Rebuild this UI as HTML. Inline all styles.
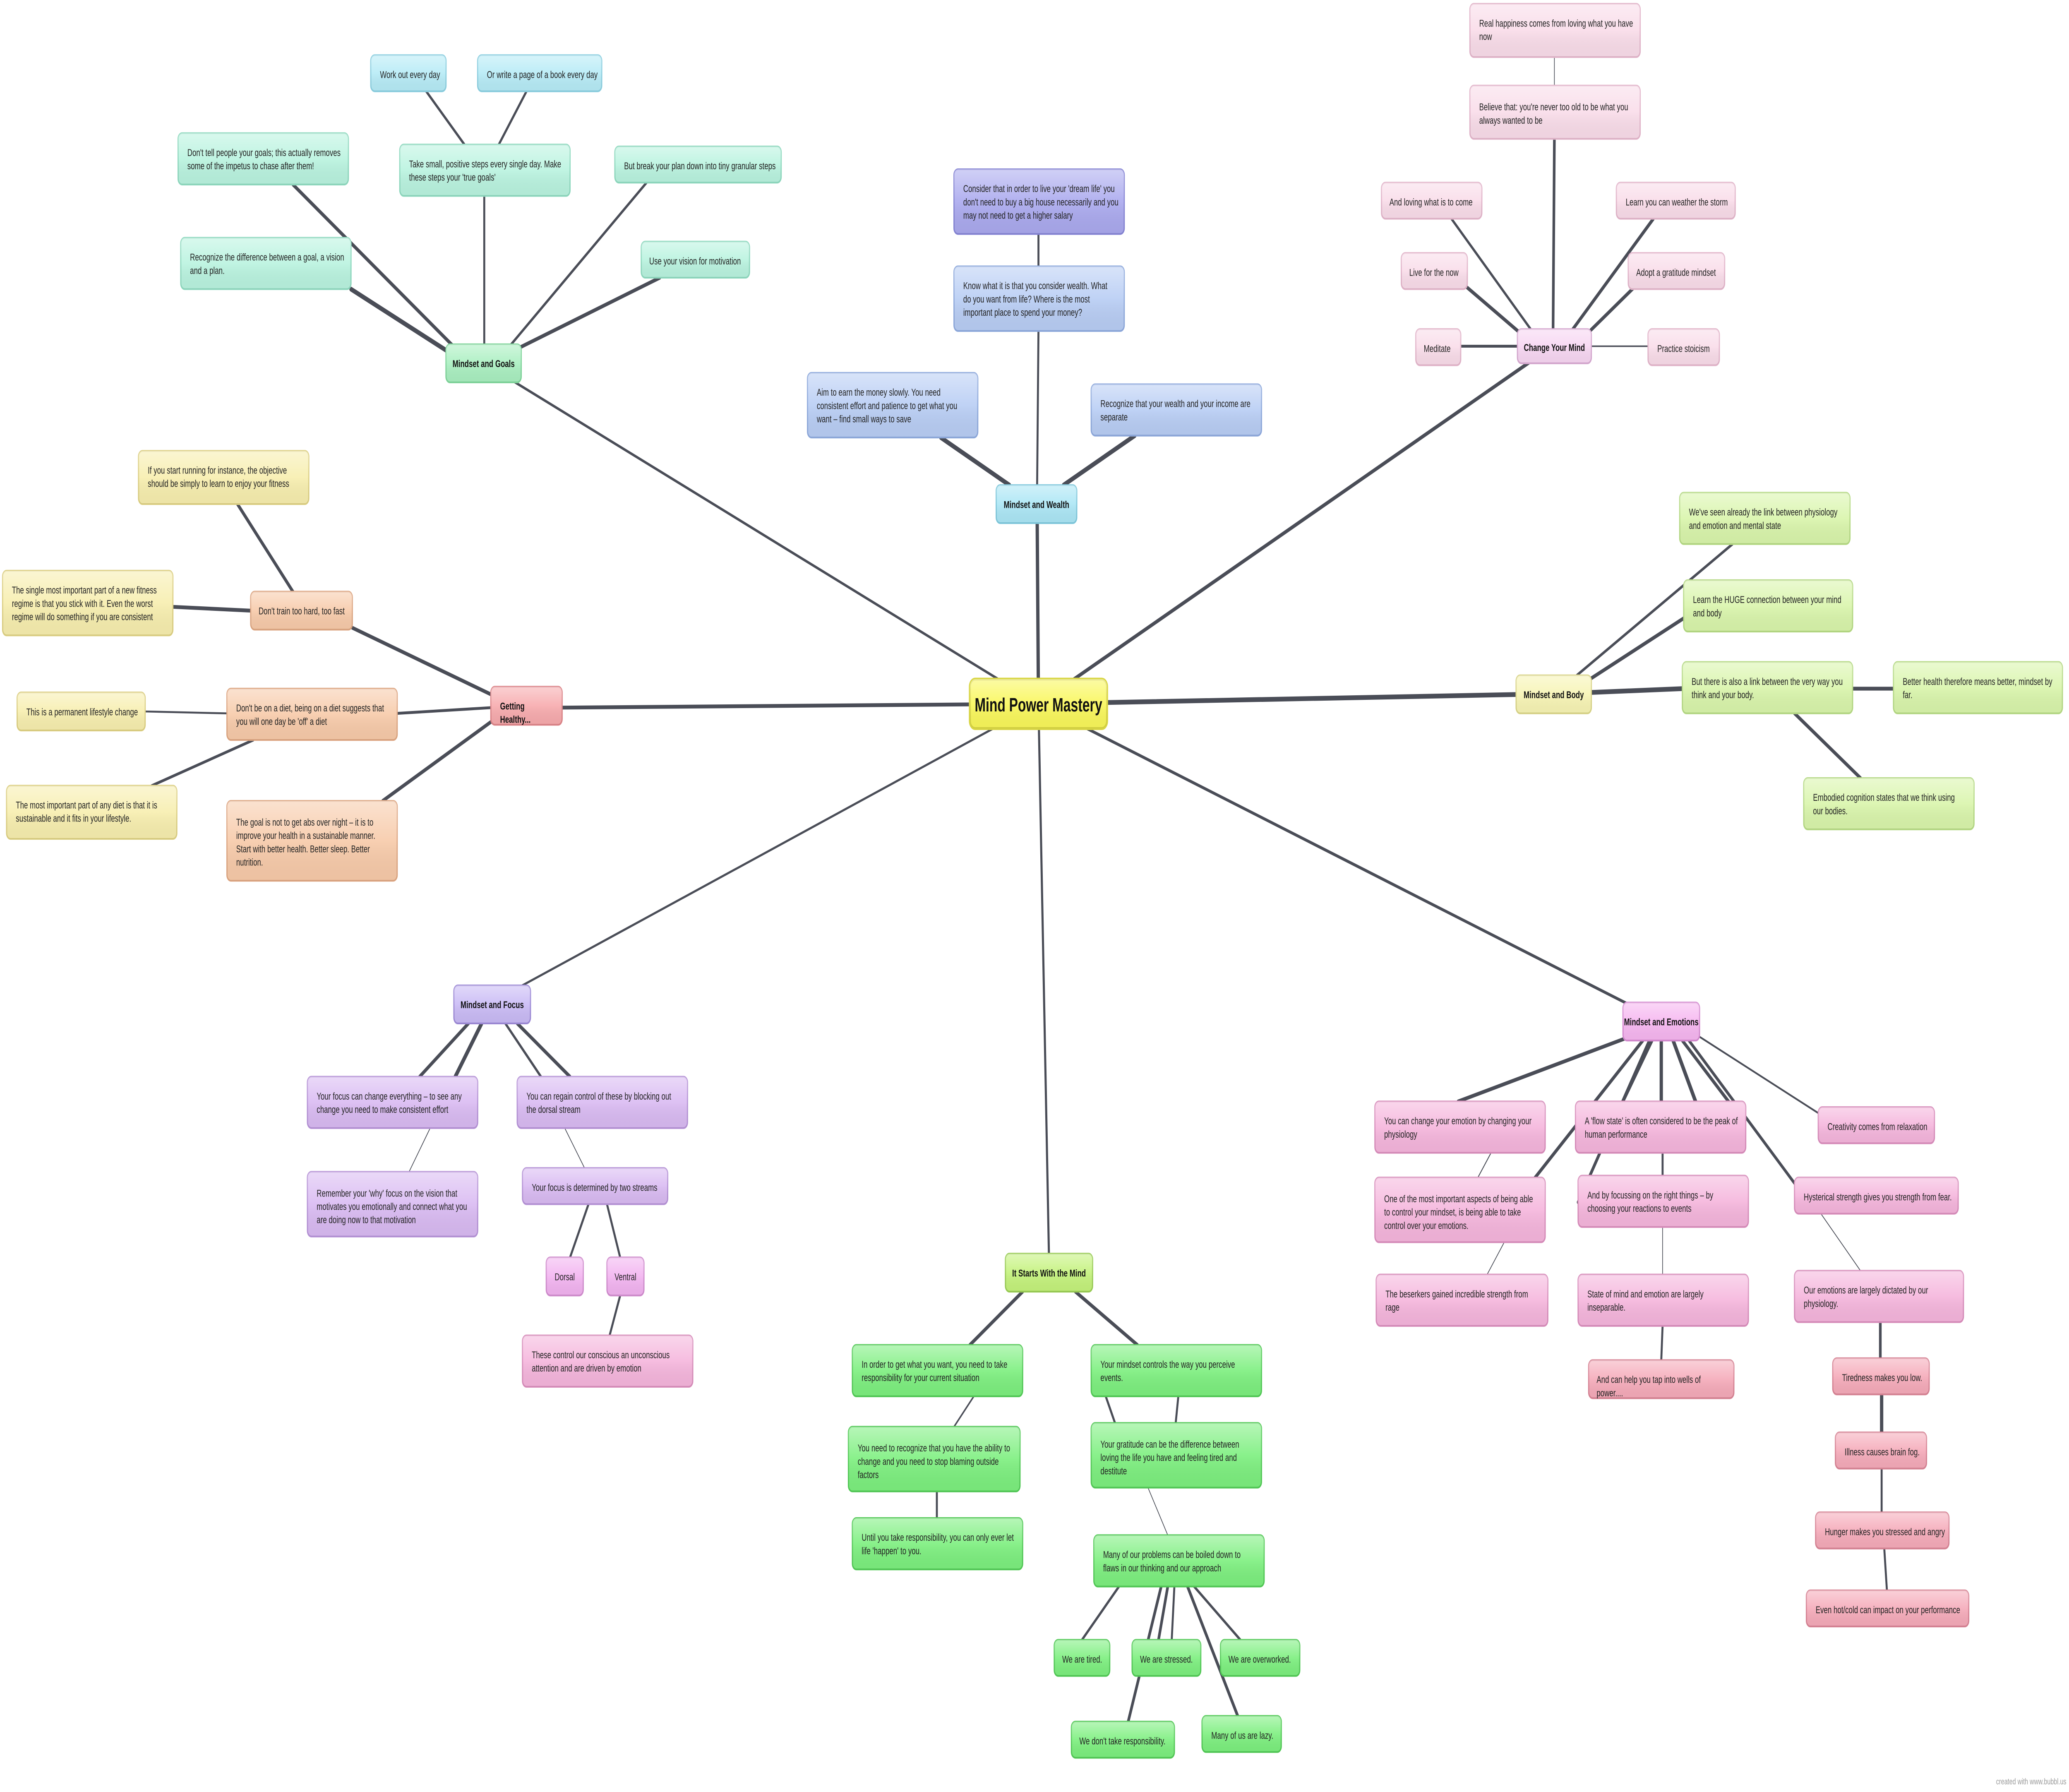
<!DOCTYPE html>
<html><head><meta charset="utf-8"><style>
html,body{margin:0;padding:0;background:#fff;width:100%;height:100%;overflow:hidden}
svg{display:block;width:100vw;height:100vh}
text{font-family:"Liberation Sans",sans-serif;fill:#222;font-size:5.3px}
.b{font-weight:bold;fill:#111}
.e{stroke:#4a4d57;stroke-linecap:round;fill:none}
.n{stroke-width:0.9}
.teal{fill:#b9f3df;stroke:#8fd9bf}
.cyan{fill:#b6ebf6;stroke:#8ccfe0}
.gh{fill:#a9efc0;stroke:#7fd49a}
.pur{fill:#aaa9ee;stroke:#8584d4}
.blu{fill:#b8cdf4;stroke:#8ea9dc}
.wh{fill:#abe6f5;stroke:#7fc8dc}
.lp{fill:#f9dce9;stroke:#e2b5ca}
.cm{fill:#f7d6f2;stroke:#d6a9d0}
.yel{fill:#f7eeae;stroke:#dccf82}
.ora{fill:#f7caa9;stroke:#dda682}
.red{fill:#f7aaad;stroke:#dc8488}
.lg{fill:#d9f5ab;stroke:#b5d984}
.by{fill:#f7f4b4;stroke:#d9d488}
.pk{fill:#f5b5dc;stroke:#d88dbb}
.me{fill:#f6b6f0;stroke:#d58ad0}
.rd{fill:#f5aab9;stroke:#d78394}
.sg{fill:#c4f27b;stroke:#99cc55}
.gr{fill:#7cef7e;stroke:#52c956}
.fp{fill:#d9baf2;stroke:#b592d6}
.mf{fill:#c9baf5;stroke:#9d8ad6}
.dv{fill:#f2b3f0;stroke:#d08ccd}
.cen{fill:#f9f75a;stroke:#d9d644;stroke-width:1.5}
</style></head><body>
<svg viewBox="0 0 1568 942" preserveAspectRatio="none" xmlns="http://www.w3.org/2000/svg">
<defs><linearGradient id="sh" x1="0" y1="0" x2="0" y2="1"><stop offset="0" stop-color="#fff" stop-opacity="0.45"/><stop offset="0.5" stop-color="#fff" stop-opacity="0.1"/><stop offset="1" stop-color="#000" stop-opacity="0.04"/></linearGradient></defs>
<rect width="1568" height="942" fill="#fff"/>
<g class="e">
<line x1="787" y1="370" x2="367" y2="191" stroke-width="1.4"/>
<line x1="787" y1="370" x2="786" y2="270" stroke-width="2.5"/>
<line x1="787" y1="370" x2="1160" y2="190" stroke-width="2"/>
<line x1="787" y1="370" x2="420" y2="372" stroke-width="2"/>
<line x1="787" y1="370" x2="1155" y2="365" stroke-width="2.5"/>
<line x1="787" y1="370" x2="1240" y2="530" stroke-width="1.6"/>
<line x1="787" y1="370" x2="380" y2="524" stroke-width="1.2"/>
<line x1="787" y1="370" x2="795" y2="662" stroke-width="1.6"/>
<line x1="367" y1="103" x2="367" y2="183" stroke-width="1.5"/>
<line x1="222" y1="97" x2="345" y2="183" stroke-width="2"/>
<line x1="266" y1="152" x2="340" y2="185" stroke-width="2.5"/>
<line x1="490" y1="96" x2="385" y2="183" stroke-width="1.5"/>
<line x1="500" y1="146" x2="393" y2="183" stroke-width="2"/>
<line x1="323" y1="48" x2="352" y2="76" stroke-width="1.5"/>
<line x1="399" y1="48" x2="378" y2="76" stroke-width="1.5"/>
<line x1="787" y1="123" x2="787" y2="140" stroke-width="1.5"/>
<line x1="787" y1="174" x2="786" y2="255" stroke-width="1.5"/>
<line x1="713" y1="230" x2="765" y2="255" stroke-width="2.5"/>
<line x1="860" y1="229" x2="806" y2="255" stroke-width="2.5"/>
<line x1="1178" y1="30" x2="1178" y2="45" stroke-width="0.5"/>
<line x1="1178" y1="73" x2="1177" y2="173" stroke-width="2"/>
<line x1="1100" y1="115" x2="1160" y2="173" stroke-width="1.5"/>
<line x1="1253" y1="115" x2="1192" y2="173" stroke-width="2"/>
<line x1="1110" y1="150" x2="1152" y2="175" stroke-width="2"/>
<line x1="1240" y1="150" x2="1202" y2="176" stroke-width="2"/>
<line x1="1107" y1="182" x2="1150" y2="182" stroke-width="1.5"/>
<line x1="1206" y1="182" x2="1249" y2="182" stroke-width="0.8"/>
<line x1="267" y1="330" x2="375" y2="366" stroke-width="2"/>
<line x1="301" y1="375" x2="372" y2="372" stroke-width="1.5"/>
<line x1="290" y1="421" x2="375" y2="378" stroke-width="2"/>
<line x1="180" y1="265" x2="222" y2="311" stroke-width="2"/>
<line x1="131" y1="319" x2="190" y2="321" stroke-width="2"/>
<line x1="110" y1="374" x2="172" y2="375" stroke-width="1"/>
<line x1="115" y1="413" x2="192" y2="389" stroke-width="1.5"/>
<line x1="1313" y1="286" x2="1195" y2="355" stroke-width="1.5"/>
<line x1="1276" y1="325" x2="1205" y2="357" stroke-width="2"/>
<line x1="1275" y1="362" x2="1206" y2="364" stroke-width="2.5"/>
<line x1="1404" y1="362" x2="1435" y2="362" stroke-width="2"/>
<line x1="1360" y1="375" x2="1410" y2="409" stroke-width="2"/>
<line x1="1105" y1="579" x2="1235" y2="545" stroke-width="2"/>
<line x1="1160" y1="622" x2="1245" y2="547" stroke-width="2"/>
<line x1="1196" y1="632" x2="1250" y2="547" stroke-width="2"/>
<line x1="1230" y1="579" x2="1252" y2="547" stroke-width="2"/>
<line x1="1259" y1="579" x2="1259" y2="547" stroke-width="2.5"/>
<line x1="1285" y1="579" x2="1268" y2="547" stroke-width="2.5"/>
<line x1="1322" y1="590" x2="1275" y2="547" stroke-width="2"/>
<line x1="1360" y1="622" x2="1280" y2="547" stroke-width="1.8"/>
<line x1="1380" y1="586" x2="1288" y2="545" stroke-width="1"/>
<line x1="1260" y1="606" x2="1260" y2="618" stroke-width="1.5"/>
<line x1="1260" y1="645" x2="1260" y2="670" stroke-width="0.5"/>
<line x1="1260" y1="697" x2="1259" y2="715" stroke-width="1.5"/>
<line x1="1130" y1="606" x2="1120" y2="619" stroke-width="0.6"/>
<line x1="1140" y1="653" x2="1127" y2="670" stroke-width="0.5"/>
<line x1="1380" y1="638" x2="1410" y2="668" stroke-width="0.5"/>
<line x1="1425" y1="695" x2="1425" y2="714" stroke-width="2"/>
<line x1="1426" y1="733" x2="1426" y2="753" stroke-width="2.5"/>
<line x1="1426" y1="772" x2="1426" y2="795" stroke-width="1.5"/>
<line x1="1428" y1="814" x2="1430" y2="836" stroke-width="1.5"/>
<line x1="735" y1="707" x2="775" y2="679" stroke-width="2"/>
<line x1="862" y1="707" x2="815" y2="679" stroke-width="2"/>
<line x1="738" y1="734" x2="723" y2="750" stroke-width="1"/>
<line x1="710" y1="784" x2="710" y2="798" stroke-width="1.5"/>
<line x1="893" y1="734" x2="891" y2="748" stroke-width="1.5"/>
<line x1="838" y1="734" x2="845" y2="748" stroke-width="1.5"/>
<line x1="870" y1="782" x2="885" y2="807" stroke-width="0.5"/>
<line x1="848" y1="834" x2="820" y2="862" stroke-width="1.5"/>
<line x1="885" y1="834" x2="878" y2="862" stroke-width="2"/>
<line x1="890" y1="834" x2="888" y2="862" stroke-width="1.5"/>
<line x1="905" y1="834" x2="940" y2="862" stroke-width="1.5"/>
<line x1="880" y1="834" x2="855" y2="905" stroke-width="2"/>
<line x1="900" y1="834" x2="938" y2="902" stroke-width="2"/>
<line x1="318" y1="566" x2="355" y2="538" stroke-width="2"/>
<line x1="345" y1="566" x2="365" y2="538" stroke-width="2.5"/>
<line x1="432" y1="566" x2="392" y2="538" stroke-width="2"/>
<line x1="410" y1="566" x2="383" y2="538" stroke-width="1.5"/>
<line x1="326" y1="593" x2="310" y2="616" stroke-width="0.5"/>
<line x1="428" y1="593" x2="443" y2="614" stroke-width="0.5"/>
<line x1="446" y1="633" x2="432" y2="661" stroke-width="1.5"/>
<line x1="460" y1="633" x2="470" y2="661" stroke-width="1.5"/>
<line x1="470" y1="681" x2="462" y2="702" stroke-width="1.5"/>
</g>

<rect class="cen" x="735" y="357" width="104" height="26" rx="4"/><rect x="735" y="357" width="104" height="26" rx="4" fill="url(#sh)"/>
<text class="b" x="787" y="374" text-anchor="middle" style="font-size:10px">Mind Power Mastery</text>

<rect class="n cyan" x="281" y="29" width="57" height="19" rx="3"/><rect x="281" y="29" width="57" height="19" rx="3" fill="url(#sh)"/><text x="288" y="41">Work out every day</text>
<rect class="n cyan" x="362" y="29" width="94" height="19" rx="3"/><rect x="362" y="29" width="94" height="19" rx="3" fill="url(#sh)"/><text x="369" y="41">Or write a page of a book every day</text>
<rect class="n teal" x="303" y="76" width="129" height="27" rx="3"/><rect x="303" y="76" width="129" height="27" rx="3" fill="url(#sh)"/><text x="310" y="88">Take small, positive steps every single day. Make</text><text x="310" y="95">these steps your 'true goals'</text>
<rect class="n teal" x="135" y="70" width="129" height="27" rx="3"/><rect x="135" y="70" width="129" height="27" rx="3" fill="url(#sh)"/><text x="142" y="82">Don't tell people your goals; this actually removes</text><text x="142" y="89">some of the impetus to chase after them!</text>
<rect class="n teal" x="466" y="77" width="126" height="19" rx="3"/><rect x="466" y="77" width="126" height="19" rx="3" fill="url(#sh)"/><text x="473" y="89">But break your plan down into tiny granular steps</text>
<rect class="n teal" x="137" y="125" width="129" height="27" rx="3"/><rect x="137" y="125" width="129" height="27" rx="3" fill="url(#sh)"/><text x="144" y="137">Recognize the difference between a goal, a vision</text><text x="144" y="144">and a plan.</text>
<rect class="n teal" x="486" y="127" width="82" height="19" rx="3"/><rect x="486" y="127" width="82" height="19" rx="3" fill="url(#sh)"/><text x="492" y="139">Use your vision for motivation</text>
<rect class="n gh" x="338" y="181" width="57" height="20" rx="3"/><rect x="338" y="181" width="57" height="20" rx="3" fill="url(#sh)"/><text class="b" x="366.5" y="193" text-anchor="middle">Mindset and Goals</text>

<rect class="n pur" x="723" y="89" width="129" height="34" rx="3"/><rect x="723" y="89" width="129" height="34" rx="3" fill="url(#sh)"/><text x="730" y="101">Consider that in order to live your 'dream life' you</text><text x="730" y="108">don't need to buy a big house necessarily and you</text><text x="730" y="115">may not need to get a higher salary</text>
<rect class="n blu" x="723" y="140" width="129" height="34" rx="3"/><rect x="723" y="140" width="129" height="34" rx="3" fill="url(#sh)"/><text x="730" y="152">Know what it is that you consider wealth. What</text><text x="730" y="159">do you want from life? Where is the most</text><text x="730" y="166">important place to spend your money?</text>
<rect class="n blu" x="612" y="196" width="129" height="34" rx="3"/><rect x="612" y="196" width="129" height="34" rx="3" fill="url(#sh)"/><text x="619" y="208">Aim to earn the money slowly. You need</text><text x="619" y="215">consistent effort and patience to get what you</text><text x="619" y="222">want – find small ways to save</text>
<rect class="n blu" x="827" y="202" width="129" height="27" rx="3"/><rect x="827" y="202" width="129" height="27" rx="3" fill="url(#sh)"/><text x="834" y="214">Recognize that your wealth and your income are</text><text x="834" y="221">separate</text>
<rect class="n wh" x="755" y="255" width="61" height="20" rx="3"/><rect x="755" y="255" width="61" height="20" rx="3" fill="url(#sh)"/><text class="b" x="785.5" y="267" text-anchor="middle">Mindset and Wealth</text>

<rect class="n lp" x="1114" y="2" width="129" height="28" rx="3"/><rect x="1114" y="2" width="129" height="28" rx="3" fill="url(#sh)"/><text x="1121" y="14">Real happiness comes from loving what you have</text><text x="1121" y="21">now</text>
<rect class="n lp" x="1114" y="45" width="129" height="28" rx="3"/><rect x="1114" y="45" width="129" height="28" rx="3" fill="url(#sh)"/><text x="1121" y="58">Believe that: you're never too old to be what you</text><text x="1121" y="65">always wanted to be</text>
<rect class="n lp" x="1047" y="96" width="76" height="19" rx="3"/><rect x="1047" y="96" width="76" height="19" rx="3" fill="url(#sh)"/><text x="1053" y="108">And loving what is to come</text>
<rect class="n lp" x="1225" y="96" width="90" height="19" rx="3"/><rect x="1225" y="96" width="90" height="19" rx="3" fill="url(#sh)"/><text x="1232" y="108">Learn you can weather the storm</text>
<rect class="n lp" x="1062" y="133" width="50" height="19" rx="3"/><rect x="1062" y="133" width="50" height="19" rx="3" fill="url(#sh)"/><text x="1068" y="145">Live for the now</text>
<rect class="n lp" x="1234" y="133" width="73" height="19" rx="3"/><rect x="1234" y="133" width="73" height="19" rx="3" fill="url(#sh)"/><text x="1240" y="145">Adopt a gratitude mindset</text>
<rect class="n lp" x="1073" y="173" width="34" height="19" rx="3"/><rect x="1073" y="173" width="34" height="19" rx="3" fill="url(#sh)"/><text x="1079" y="185">Meditate</text>
<rect class="n lp" x="1249" y="173" width="54" height="19" rx="3"/><rect x="1249" y="173" width="54" height="19" rx="3" fill="url(#sh)"/><text x="1256" y="185">Practice stoicism</text>
<rect class="n cm" x="1150" y="173" width="56" height="18" rx="3"/><rect x="1150" y="173" width="56" height="18" rx="3" fill="url(#sh)"/><text class="b" x="1178" y="184.5" text-anchor="middle">Change Your Mind</text>

<rect class="n yel" x="105" y="237" width="129" height="28" rx="3"/><rect x="105" y="237" width="129" height="28" rx="3" fill="url(#sh)"/><text x="112" y="249">If you start running for instance, the objective</text><text x="112" y="256">should be simply to learn to enjoy your fitness</text>
<rect class="n yel" x="2" y="300" width="129" height="34" rx="3"/><rect x="2" y="300" width="129" height="34" rx="3" fill="url(#sh)"/><text x="9" y="312">The single most important part of a new fitness</text><text x="9" y="319">regime is that you stick with it. Even the worst</text><text x="9" y="326">regime will do something if you are consistent</text>
<rect class="n ora" x="190" y="311" width="77" height="20" rx="3"/><rect x="190" y="311" width="77" height="20" rx="3" fill="url(#sh)"/><text x="196" y="323">Don't train too hard, too fast</text>
<rect class="n yel" x="13" y="364" width="97" height="20" rx="3"/><rect x="13" y="364" width="97" height="20" rx="3" fill="url(#sh)"/><text x="20" y="376">This is a permanent lifestyle change</text>
<rect class="n ora" x="172" y="362" width="129" height="27" rx="3"/><rect x="172" y="362" width="129" height="27" rx="3" fill="url(#sh)"/><text x="179" y="374">Don't be on a diet, being on a diet suggests that</text><text x="179" y="381">you will one day be 'off' a diet</text>
<rect class="n yel" x="5" y="413" width="129" height="28" rx="3"/><rect x="5" y="413" width="129" height="28" rx="3" fill="url(#sh)"/><text x="12" y="425">The most important part of any diet is that it is</text><text x="12" y="432">sustainable and it fits in your lifestyle.</text>
<rect class="n ora" x="172" y="421" width="129" height="42" rx="3"/><rect x="172" y="421" width="129" height="42" rx="3" fill="url(#sh)"/><text x="179" y="434">The goal is not to get abs over night – it is to</text><text x="179" y="441">improve your health in a sustainable manner.</text><text x="179" y="448">Start with better health. Better sleep. Better</text><text x="179" y="455">nutrition.</text>
<rect class="n red" x="372" y="361" width="54" height="20" rx="3"/><rect x="372" y="361" width="54" height="20" rx="3" fill="url(#sh)"/><text class="b" x="379" y="373">Getting</text><text class="b" x="379" y="380">Healthy...</text>

<rect class="n lg" x="1273" y="259" width="129" height="27" rx="3"/><rect x="1273" y="259" width="129" height="27" rx="3" fill="url(#sh)"/><text x="1280" y="271">We've seen already the link between physiology</text><text x="1280" y="278">and emotion and mental state</text>
<rect class="n lg" x="1276" y="305" width="128" height="27" rx="3"/><rect x="1276" y="305" width="128" height="27" rx="3" fill="url(#sh)"/><text x="1283" y="317">Learn the HUGE connection between your mind</text><text x="1283" y="324">and body</text>
<rect class="n lg" x="1275" y="348" width="129" height="27" rx="3"/><rect x="1275" y="348" width="129" height="27" rx="3" fill="url(#sh)"/><text x="1282" y="360">But there is also a link between the very way you</text><text x="1282" y="367">think and your body.</text>
<rect class="n lg" x="1435" y="348" width="128" height="27" rx="3"/><rect x="1435" y="348" width="128" height="27" rx="3" fill="url(#sh)"/><text x="1442" y="360">Better health therefore means better, mindset by</text><text x="1442" y="367">far.</text>
<rect class="n lg" x="1367" y="409" width="129" height="27" rx="3"/><rect x="1367" y="409" width="129" height="27" rx="3" fill="url(#sh)"/><text x="1374" y="421">Embodied cognition states that we think using</text><text x="1374" y="428">our bodies.</text>
<rect class="n by" x="1149" y="355" width="57" height="20" rx="3"/><rect x="1149" y="355" width="57" height="20" rx="3" fill="url(#sh)"/><text class="b" x="1177.5" y="367" text-anchor="middle">Mindset and Body</text>

<rect class="n me" x="1230" y="527" width="58" height="20" rx="3"/><rect x="1230" y="527" width="58" height="20" rx="3" fill="url(#sh)"/><text class="b" x="1259" y="539" text-anchor="middle">Mindset and Emotions</text>
<rect class="n pk" x="1042" y="579" width="129" height="27" rx="3"/><rect x="1042" y="579" width="129" height="27" rx="3" fill="url(#sh)"/><text x="1049" y="591">You can change your emotion by changing your</text><text x="1049" y="598">physiology</text>
<rect class="n pk" x="1194" y="579" width="129" height="27" rx="3"/><rect x="1194" y="579" width="129" height="27" rx="3" fill="url(#sh)"/><text x="1201" y="591">A 'flow state' is often considered to be the peak of</text><text x="1201" y="598">human performance</text>
<rect class="n pk" x="1378" y="582" width="88" height="19" rx="3"/><rect x="1378" y="582" width="88" height="19" rx="3" fill="url(#sh)"/><text x="1385" y="594">Creativity comes from relaxation</text>
<rect class="n pk" x="1042" y="619" width="129" height="34" rx="3"/><rect x="1042" y="619" width="129" height="34" rx="3" fill="url(#sh)"/><text x="1049" y="632">One of the most important aspects of being able</text><text x="1049" y="639">to control your mindset, is being able to take</text><text x="1049" y="646">control over your emotions.</text>
<rect class="n pk" x="1196" y="618" width="129" height="27" rx="3"/><rect x="1196" y="618" width="129" height="27" rx="3" fill="url(#sh)"/><text x="1203" y="630">And by focussing on the right things – by</text><text x="1203" y="637">choosing your reactions to events</text>
<rect class="n pk" x="1360" y="619" width="124" height="19" rx="3"/><rect x="1360" y="619" width="124" height="19" rx="3" fill="url(#sh)"/><text x="1367" y="631">Hysterical strength gives you strength from fear.</text>
<rect class="n pk" x="1043" y="670" width="130" height="27" rx="3"/><rect x="1043" y="670" width="130" height="27" rx="3" fill="url(#sh)"/><text x="1050" y="682">The beserkers gained incredible strength from</text><text x="1050" y="689">rage</text>
<rect class="n pk" x="1196" y="670" width="129" height="27" rx="3"/><rect x="1196" y="670" width="129" height="27" rx="3" fill="url(#sh)"/><text x="1203" y="682">State of mind and emotion are largely</text><text x="1203" y="689">inseparable.</text>
<rect class="n pk" x="1360" y="668" width="128" height="27" rx="3"/><rect x="1360" y="668" width="128" height="27" rx="3" fill="url(#sh)"/><text x="1367" y="680">Our emotions are largely dictated by our</text><text x="1367" y="687">physiology.</text>
<rect class="n rd" x="1204" y="715" width="110" height="20" rx="3"/><rect x="1204" y="715" width="110" height="20" rx="3" fill="url(#sh)"/><text x="1210" y="727">And can help you tap into wells of</text><text x="1210" y="734">power....</text>
<rect class="n rd" x="1389" y="714" width="73" height="19" rx="3"/><rect x="1389" y="714" width="73" height="19" rx="3" fill="url(#sh)"/><text x="1396" y="726">Tiredness makes you low.</text>
<rect class="n rd" x="1391" y="753" width="69" height="19" rx="3"/><rect x="1391" y="753" width="69" height="19" rx="3" fill="url(#sh)"/><text x="1398" y="765">Illness causes brain fog.</text>
<rect class="n rd" x="1376" y="795" width="101" height="19" rx="3"/><rect x="1376" y="795" width="101" height="19" rx="3" fill="url(#sh)"/><text x="1383" y="807">Hunger makes you stressed and angry</text>
<rect class="n rd" x="1369" y="836" width="123" height="19" rx="3"/><rect x="1369" y="836" width="123" height="19" rx="3" fill="url(#sh)"/><text x="1376" y="848">Even hot/cold can impact on your performance</text>

<rect class="n sg" x="762" y="659" width="66" height="20" rx="3"/><rect x="762" y="659" width="66" height="20" rx="3" fill="url(#sh)"/><text class="b" x="795" y="671" text-anchor="middle">It Starts With the Mind</text>
<rect class="n gr" x="646" y="707" width="129" height="27" rx="3"/><rect x="646" y="707" width="129" height="27" rx="3" fill="url(#sh)"/><text x="653" y="719">In order to get what you want, you need to take</text><text x="653" y="726">responsibility for your current situation</text>
<rect class="n gr" x="827" y="707" width="129" height="27" rx="3"/><rect x="827" y="707" width="129" height="27" rx="3" fill="url(#sh)"/><text x="834" y="719">Your mindset controls the way you perceive</text><text x="834" y="726">events.</text>
<rect class="n gr" x="643" y="750" width="130" height="34" rx="3"/><rect x="643" y="750" width="130" height="34" rx="3" fill="url(#sh)"/><text x="650" y="763">You need to recognize that you have the ability to</text><text x="650" y="770">change and you need to stop blaming outside</text><text x="650" y="777">factors</text>
<rect class="n gr" x="827" y="748" width="129" height="34" rx="3"/><rect x="827" y="748" width="129" height="34" rx="3" fill="url(#sh)"/><text x="834" y="761">Your gratitude can be the difference between</text><text x="834" y="768">loving the life you have and feeling tired and</text><text x="834" y="775">destitute</text>
<rect class="n gr" x="646" y="798" width="129" height="27" rx="3"/><rect x="646" y="798" width="129" height="27" rx="3" fill="url(#sh)"/><text x="653" y="810">Until you take responsibility, you can only ever let</text><text x="653" y="817">life 'happen' to you.</text>
<rect class="n gr" x="829" y="807" width="129" height="27" rx="3"/><rect x="829" y="807" width="129" height="27" rx="3" fill="url(#sh)"/><text x="836" y="819">Many of our problems can be boiled down to</text><text x="836" y="826">flaws in our thinking and our approach</text>
<rect class="n gr" x="799" y="862" width="42" height="19" rx="3"/><rect x="799" y="862" width="42" height="19" rx="3" fill="url(#sh)"/><text x="805" y="874">We are tired.</text>
<rect class="n gr" x="858" y="862" width="52" height="19" rx="3"/><rect x="858" y="862" width="52" height="19" rx="3" fill="url(#sh)"/><text x="864" y="874">We are stressed.</text>
<rect class="n gr" x="925" y="862" width="60" height="19" rx="3"/><rect x="925" y="862" width="60" height="19" rx="3" fill="url(#sh)"/><text x="931" y="874">We are overworked.</text>
<rect class="n gr" x="812" y="905" width="78" height="19" rx="3"/><rect x="812" y="905" width="78" height="19" rx="3" fill="url(#sh)"/><text x="818" y="917">We don't take responsibility.</text>
<rect class="n gr" x="911" y="902" width="60" height="19" rx="3"/><rect x="911" y="902" width="60" height="19" rx="3" fill="url(#sh)"/><text x="918" y="914">Many of us are lazy.</text>

<rect class="n mf" x="344" y="518" width="58" height="20" rx="3"/><rect x="344" y="518" width="58" height="20" rx="3" fill="url(#sh)"/><text class="b" x="373" y="530" text-anchor="middle">Mindset and Focus</text>
<rect class="n fp" x="233" y="566" width="129" height="27" rx="3"/><rect x="233" y="566" width="129" height="27" rx="3" fill="url(#sh)"/><text x="240" y="578">Your focus can change everything – to see any</text><text x="240" y="585">change you need to make consistent effort</text>
<rect class="n fp" x="392" y="566" width="129" height="27" rx="3"/><rect x="392" y="566" width="129" height="27" rx="3" fill="url(#sh)"/><text x="399" y="578">You can regain control of these by blocking out</text><text x="399" y="585">the dorsal stream</text>
<rect class="n fp" x="233" y="616" width="129" height="34" rx="3"/><rect x="233" y="616" width="129" height="34" rx="3" fill="url(#sh)"/><text x="240" y="629">Remember your 'why' focus on the vision that</text><text x="240" y="636">motivates you emotionally and connect what you</text><text x="240" y="643">are doing now to that motivation</text>
<rect class="n fp" x="396" y="614" width="110" height="19" rx="3"/><rect x="396" y="614" width="110" height="19" rx="3" fill="url(#sh)"/><text x="403" y="626">Your focus is determined by two streams</text>
<rect class="n dv" x="414" y="661" width="28" height="20" rx="3"/><rect x="414" y="661" width="28" height="20" rx="3" fill="url(#sh)"/><text x="428" y="673" text-anchor="middle">Dorsal</text>
<rect class="n dv" x="460" y="661" width="28" height="20" rx="3"/><rect x="460" y="661" width="28" height="20" rx="3" fill="url(#sh)"/><text x="474" y="673" text-anchor="middle">Ventral</text>
<rect class="n pk" x="396" y="702" width="129" height="27" rx="3"/><rect x="396" y="702" width="129" height="27" rx="3" fill="url(#sh)"/><text x="403" y="714">These control our conscious an unconscious</text><text x="403" y="721">attention and are driven by emotion</text>

<text x="1566" y="938" text-anchor="end" style="font-size:4.5px;fill:#999">created with www.bubbl.us</text>
</svg>
</body></html>
